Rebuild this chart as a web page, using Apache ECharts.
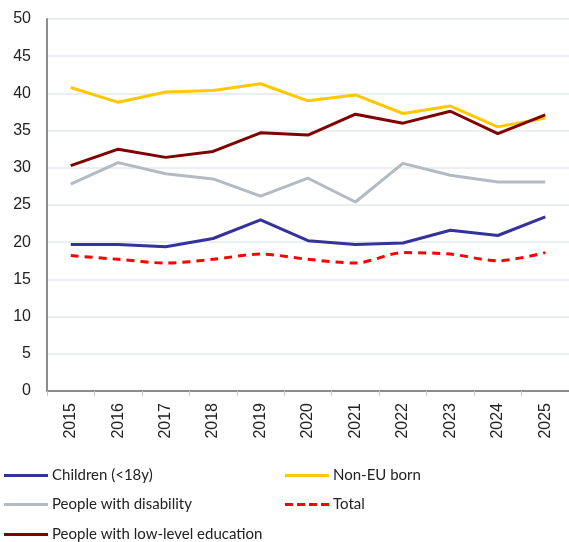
<!DOCTYPE html>
<html>
<head>
<meta charset="utf-8">
<script src="https://cdn.jsdelivr.net/npm/echarts@6/dist/echarts.min.js"></script>
<style>
  html, body { margin: 0; padding: 0; background: #fff; }
  #chart { width: 569px; height: 542px; }
</style>
</head>
<body>
<div id="chart"></div>
<script>
const years = ['2015', '2016', '2017', '2018', '2019', '2020', '2021', '2022', '2023', '2024', '2025'];
const children = [19.7, 19.7, 19.4, 20.5, 23.0, 20.2, 19.7, 19.9, 21.6, 20.9, 23.4];
const nonEuBorn = [40.8, 38.8, 40.2, 40.4, 41.3, 39.0, 39.8, 37.3, 38.3, 35.5, 36.7];
const disability = [27.8, 30.7, 29.2, 28.5, 26.2, 28.6, 25.4, 30.6, 29.0, 28.1, 28.1];
const total = [18.2, 17.7, 17.2, 17.7, 18.4, 17.7, 17.2, 18.6, 18.4, 17.5, 18.6];
const lowEducation = [30.3, 32.5, 31.4, 32.2, 34.7, 34.4, 37.2, 36.0, 37.6, 34.6, 37.1];

const chart = echarts.init(document.getElementById('chart'));

const solidIcon = 'path://M0,0h44v3h-44z';
const dashIcon = 'path://M0,0h8v3h-8zM12,0h8v3h-8zM24,0h8v3h-8zM36,0h8v3h-8z';

// one legend per entry so the two-column layout matches
function legendItem(name, icon, left, top) {
  return {
    data: [{ name: name, icon: icon }],
    left: left,
    top: top,
    itemWidth: 44,
    itemHeight: 3,
    itemGap: 0,
    padding: 0,
    textStyle: {
      fontFamily: 'Lato, "Noto Sans", sans-serif',
      fontSize: 15,
      color: '#222',
      padding: [0, 0, 0, -1]
    }
  };
}

function lineSeries(name, data, color, extra) {
  return Object.assign({
    name: name,
    type: 'line',
    data: data,
    symbol: 'none',
    lineStyle: { color: color, width: 3 },
    itemStyle: { color: color }
  }, extra || {});
}

const option = {
  backgroundColor: '#fff',
  animation: false,
  grid: { left: 47, width: 525, top: 19, bottom: 151 },
  legend: [
    legendItem('Children (<18y)', solidIcon, 4, 468),
    legendItem('Non-EU born', solidIcon, 285, 468),
    legendItem('People with disability', solidIcon, 4, 497),
    legendItem('Total', dashIcon, 285, 497),
    legendItem('People with low-level education', solidIcon, 4, 527)
  ],
  xAxis: {
    type: 'category',
    data: years,
    boundaryGap: true,
    axisLine: { lineStyle: { color: '#8c8c8c', width: 2 } },
    axisTick: { show: true, length: 5, lineStyle: { color: '#c8c8c8' } },
    axisLabel: {
      rotate: 90,
      margin: 12,
      fontFamily: '"Liberation Sans", Arial, sans-serif',
      fontSize: 16,
      color: '#222'
    }
  },
  yAxis: {
    type: 'value',
    min: 0,
    max: 50,
    interval: 5,
    axisLine: { show: true, lineStyle: { color: '#8c8c8c', width: 2 } },
    axisTick: { show: false },
    splitLine: { lineStyle: { color: '#e4e8ee', width: 1.5 } },
    axisLabel: {
      margin: 16,
      fontFamily: '"Liberation Sans", Arial, sans-serif',
      fontSize: 16,
      color: '#222'
    }
  },
  series: [
    lineSeries('Children (<18y)', children, '#333399'),
    lineSeries('People with disability', disability, '#b3bac2'),
    lineSeries('Non-EU born', nonEuBorn, '#ffc800'),
    lineSeries('People with low-level education', lowEducation, '#800000'),
    lineSeries('Total', total, '#ff0000', {
      smooth: 0.3,
      lineStyle: { color: '#ff0000', width: 3, type: [8, 6] }
    })
  ]
};

chart.setOption(option);
</script>
</body>
</html>
